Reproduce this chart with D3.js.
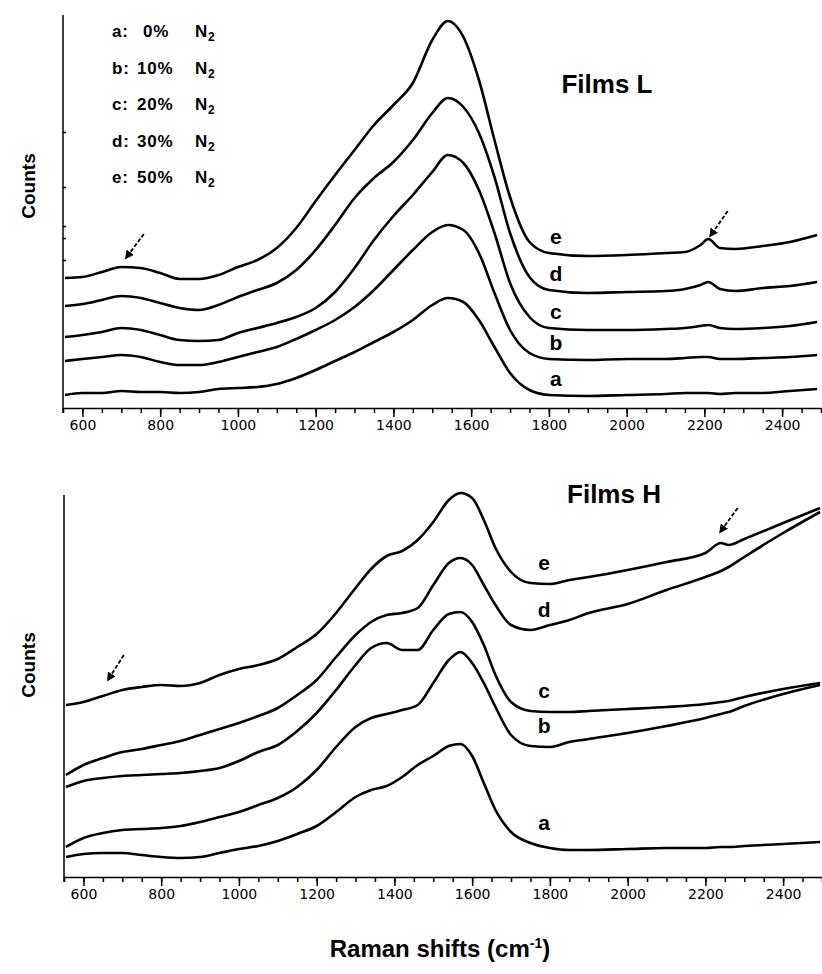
<!DOCTYPE html>
<html>
<head>
<meta charset="utf-8">
<script src="https://cdn.jsdelivr.net/npm/d3@7"></script>
<style>
  body { margin: 0; background: #fff; }
  svg text { fill: #000; }
  .curve { fill: none; stroke: #000; stroke-width: 2.6; stroke-linejoin: round; }
  .axis path, .axis line { stroke: #000; stroke-width: 1.5; }
  .axis text { font-family: "DejaVu Sans", sans-serif; font-size: 14px; }
</style>
</head>
<body>
<div id="chart"></div>
<script>
// ---- data (counts in arbitrary units, traces offset as in the figure) ----

// Films L
var shiftsL = [555, 600, 650, 700, 750, 800, 850, 900, 950, 1000, 1050, 1100, 1150, 1200,
  1250, 1300, 1350, 1400, 1450, 1500, 1540, 1580, 1620, 1660, 1700, 1750, 1800, 1900,
  2000, 2100, 2150, 2190, 2210, 2240, 2280, 2350, 2420, 2490];
var filmL_a = [13, 15, 15, 17, 16, 16, 15, 16, 19, 20, 21, 24, 30, 38, 47, 56, 66, 76, 88,
  103, 110, 106, 88, 61, 35, 18, 13, 12, 13, 14, 15, 15, 15, 14, 15, 15, 17, 19];
var filmL_b = [47, 49, 51, 53, 51, 46, 43, 43, 46, 51, 56, 61, 69, 78, 88, 101, 118, 138, 158,
  176, 183, 178, 155, 115, 78, 55, 49, 48, 49, 49, 50, 51, 51, 49, 49, 50, 51, 53];
var filmL_c = [71, 73, 76, 80, 78, 73, 68, 67, 68, 75, 80, 85, 91, 100, 116, 140, 168, 192, 213,
  236, 253, 245, 218, 175, 125, 91, 80, 78, 78, 79, 80, 82, 83, 80, 79, 80, 82, 86];
var filmL_d = [102, 104, 108, 112, 110, 105, 100, 98, 103, 111, 118, 125, 138, 158, 183, 210,
  230, 246, 268, 295, 310, 301, 275, 231, 175, 131, 118, 115, 116, 117, 119, 123, 126, 119,
  117, 120, 122, 126];
var filmL_e = [130, 131, 136, 141, 140, 135, 129, 129, 133, 141, 148, 160, 180, 207, 233, 258,
  283, 303, 325, 368, 387, 371, 328, 268, 211, 166, 155, 152, 153, 155, 156, 163, 169, 160,
  159, 162, 166, 173];

// Films H
var shiftsH = [555, 600, 650, 700, 750, 800, 850, 900, 950, 1000, 1050, 1100, 1150, 1200,
  1250, 1300, 1340, 1380, 1420, 1460, 1500, 1540, 1570, 1600, 1630, 1660, 1700, 1750, 1800,
  1850, 1900, 2000, 2100, 2200, 2240, 2260, 2300, 2400, 2495];
var filmH_a = [20, 23, 24, 24, 22, 20, 19, 20, 24, 28, 31, 36, 43, 51, 65, 80, 87, 91, 100, 112,
  121, 131, 133, 121, 94, 67, 45, 34, 29, 27, 27, 28, 29, 29, 30, 30, 31, 33, 35];
var filmH_b = [30, 39, 44, 47, 48, 49, 51, 55, 60, 65, 72, 79, 90, 107, 130, 150, 159, 163, 167,
  172, 194, 217, 225, 214, 194, 170, 142, 131, 130, 135, 138, 144, 151, 159, 163, 165, 171,
  183, 192];
var filmH_c = [90, 96, 99, 101, 102, 103, 104, 106, 109, 116, 125, 132, 146, 164, 187, 212, 229,
  234, 227, 227, 247, 263, 265, 255, 232, 202, 175, 166, 165, 165, 166, 168, 170, 173, 175,
  176, 180, 188, 194];
var filmH_d = [102, 112, 119, 125, 128, 132, 136, 142, 148, 154, 161, 169, 182, 197, 220, 242,
  255, 262, 264, 269, 292, 314, 319, 312, 292, 272, 252, 247, 252, 257, 264, 273, 287, 300,
  306, 310, 320, 344, 365];
var filmH_e = [172, 175, 181, 187, 190, 192, 191, 194, 202, 208, 212, 218, 230, 243, 264, 289,
  308, 321, 326, 337, 355, 377, 384, 379, 357, 329, 305, 294, 293, 297, 300, 307, 315, 324,
  334, 332, 338, 354, 369];

var curveNames = ['a', 'b', 'c', 'd', 'e'];
var legendKeys = ['a:', 'b:', 'c:', 'd:', 'e:'];
var legendPct = ['0%', '10%', '20%', '30%', '50%'];
var xTickLabels = [600, 800, 1000, 1200, 1400, 1600, 1800, 2000, 2200, 2400];
var xMinorTicks = d3.range(550, 2501, 50);
var yTicksL = [148, 170, 182, 221, 276]; // small marks on the Films L y axis

// arrows (shift, counts) tail -> head
var arrowsL = [[[758, 174], [712, 150]], [[2260, 197], [2215, 172]]];
var arrowsH = [[[704, 222], [663, 197]], [[2283, 369], [2238, 345]]];

// ---- layout ----
var W = 822, H = 974;
var X_DOMAIN = [550, 2500];

var svg = d3.select('#chart').append('svg')
  .attr('width', W).attr('height', H);

// arrow head
svg.append('defs').append('marker')
  .attr('id', 'head')
  .attr('viewBox', '0 0 10 10')
  .attr('refX', 8).attr('refY', 5)
  .attr('markerWidth', 5).attr('markerHeight', 5)
  .attr('orient', 'auto')
  .append('path')
  .attr('d', 'M0,0 L10,5 L0,10 z')
  .attr('fill', '#000');

var panels = [
  {
    shifts: shiftsL,
    series: [filmL_a, filmL_b, filmL_c, filmL_d, filmL_e],
    xRange: [63, 821], yDomain: [0, 393], yRange: [408, 15],
    title: 'Films L', titleX: 607, titleY: 93,
    labelAt: 1818, labelAbove: 17, labelIdx: 26,
    arrows: arrowsL, yTicks: yTicksL, countsY: 186
  },
  {
    shifts: shiftsH,
    series: [filmH_a, filmH_b, filmH_c, filmH_d, filmH_e],
    xRange: [64, 822], yDomain: [0, 382], yRange: [877, 495],
    title: 'Films H', titleX: 614, titleY: 503,
    labelAt: 1785, labelAbove: 21, labelIdx: 27,
    arrows: arrowsH, yTicks: [], countsY: 665
  }
];

panels.forEach(function(p){

  var x = d3.scaleLinear().domain(X_DOMAIN).range(p.xRange);
  var y = d3.scaleLinear().domain(p.yDomain).range(p.yRange);
  var g = svg.append('g');

  // x axis: minor ticks every 50, labelled every 200
  g.append('g')
    .attr('class', 'axis')
    .attr('transform', 'translate(0,' + p.yRange[0] + ')')
    .call(d3.axisBottom(x).tickValues(xMinorTicks).tickSize(5).tickSizeOuter(0).tickFormat(''));

  g.append('g')
    .attr('class', 'axis')
    .attr('transform', 'translate(0,' + p.yRange[0] + ')')
    .call(d3.axisBottom(x).tickValues(xTickLabels).tickSize(9).tickSizeOuter(0).tickPadding(3)
      .tickFormat(d3.format('d')))
    .select('.domain').remove();

  // y axis line without labels
  g.append('g')
    .attr('class', 'axis')
    .attr('transform', 'translate(' + p.xRange[0] + ',0)')
    .call(d3.axisRight(y).tickValues(p.yTicks).tickSize(3).tickSizeOuter(0).tickFormat(''))
    .select('.domain').attr('d', 'M0,' + (p.yRange[1]) + 'V' + (p.yRange[0] + 5));

  var line = d3.line()
    .x(function(d, i){ return x(p.shifts[i]); })
    .y(function(d){ return y(d); })
    .curve(d3.curveMonotoneX);

  g.selectAll('path.curve')
    .data(p.series)
    .enter()
    .append('path')
    .attr('class', 'curve')
    .attr('d', line);

  // curve letters
  g.selectAll('text.lbl')
    .data(p.series)
    .enter()
    .append('text')
    .attr('class', 'lbl')
    .attr('x', x(p.labelAt))
    .attr('y', function(d){ return y(d[p.labelIdx]) - p.labelAbove; })
    .attr('text-anchor', 'middle')
    .attr('dominant-baseline', 'central')
    .style('font-family', 'Liberation Sans, Arial, sans-serif')
    .style('font-weight', 'bold')
    .style('font-size', '21px')
    .text(function(d, i){ return curveNames[i]; });

  // arrows
  g.selectAll('line.arrow')
    .data(p.arrows)
    .enter()
    .append('line')
    .attr('class', 'arrow')
    .attr('x1', function(d){ return x(d[0][0]); })
    .attr('y1', function(d){ return y(d[0][1]); })
    .attr('x2', function(d){ return x(d[1][0]); })
    .attr('y2', function(d){ return y(d[1][1]); })
    .attr('stroke', '#000')
    .attr('stroke-width', 1.8)
    .attr('stroke-dasharray', '4,2')
    .attr('marker-end', 'url(#head)');

  g.append('text')
    .attr('x', p.titleX)
    .attr('y', p.titleY)
    .attr('text-anchor', 'middle')
    .style('font-family', 'Liberation Sans, Arial, sans-serif')
    .style('font-weight', 'bold')
    .style('font-size', '26px')
    .text(p.title);

  g.append('text')
    .attr('transform', 'translate(35,' + p.countsY + ') rotate(-90)')
    .attr('text-anchor', 'middle')
    .style('font-family', 'Liberation Sans, Arial, sans-serif')
    .style('font-weight', 'bold')
    .style('font-size', '19px')
    .text('Counts');
});

// legend of Films L
var legend = svg.append('g')
  .style('font-family', 'Liberation Sans, Arial, sans-serif')
  .style('font-weight', 'bold')
  .style('font-size', '17px')
  .style('letter-spacing', '0.8px');

var rows = legend.selectAll('g')
  .data(legendKeys)
  .enter()
  .append('g')
  .attr('transform', function(d, i){ return 'translate(0,' + (37 + i * 36.5) + ')'; });

rows.append('text').attr('x', 112).text(function(d){ return d; });
rows.append('text')
  .attr('x', function(d, i){ return legendPct[i].length < 3 ? 143 : 137; })
  .text(function(d, i){ return legendPct[i]; });
var n2 = rows.append('text').attr('x', 195);
n2.append('tspan').text('N');
n2.append('tspan').attr('dy', 4).style('font-size', '12px').text('2');

// x axis title
var xt = svg.append('text')
  .attr('x', 440)
  .attr('y', 957)
  .attr('text-anchor', 'middle')
  .style('font-family', 'Liberation Sans, Arial, sans-serif')
  .style('font-weight', 'bold')
  .style('font-size', '24px');
xt.append('tspan').text('Raman shifts (cm');
xt.append('tspan').attr('dy', -9).style('font-size', '14px').text('-1');
xt.append('tspan').attr('dy', 9).text(')');
</script>
</body>
</html>
